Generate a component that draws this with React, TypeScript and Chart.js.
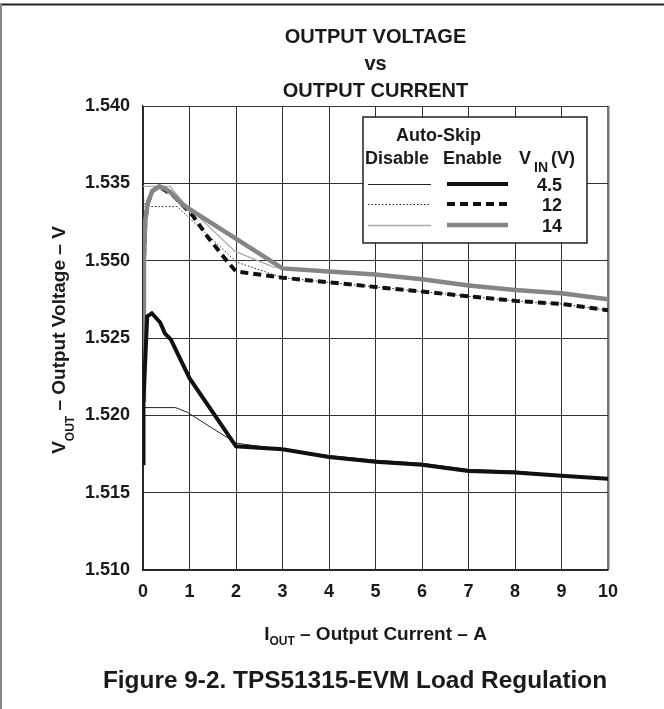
import React, { useEffect, useRef } from "react";
import { Chart, registerables } from "chart.js";

Chart.register(...registerables);

// ---------- data ----------
const xTickValues = [0, 1, 2, 3, 4, 5, 6, 7, 8, 9, 10];
const yTickValues = [1.51, 1.515, 1.52, 1.525, 1.53, 1.535, 1.54];
const yTickLabels = ["1.510", "1.515", "1.520", "1.525", "1.550", "1.535", "1.540"];

const titleLines = ["OUTPUT VOLTAGE", "vs", "OUTPUT CURRENT"];
const caption = "Figure 9-2. TPS51315-EVM Load Regulation";

// VIN = 4.5 V, auto-skip enable (thick black)
const iout45En = [0, 0.01, 0.09, 0.19, 0.37, 0.47, 0.6, 1.0, 2.0, 3, 4, 5, 6, 7, 8, 9, 10];
const vout45En = [1.5169, 1.521, 1.5264, 1.5266, 1.526, 1.5253, 1.5249, 1.5224, 1.518, 1.5178, 1.5173, 1.517, 1.5168, 1.5164, 1.5163, 1.5161, 1.5159];

// VIN = 4.5 V, auto-skip disable (thin black)
const iout45Dis = [0, 0.7, 0.95, 2.0, 3, 4, 5, 6, 7, 8, 9, 10];
const vout45Dis = [1.5205, 1.5205, 1.5202, 1.5182, 1.5178, 1.5174, 1.5171, 1.5169, 1.5165, 1.5164, 1.5161, 1.5159];

// VIN = 12 V, auto-skip enable (thick dashed black)
const iout12En = [0, 0.02, 0.05, 0.1, 0.2, 0.35, 0.5, 0.65, 1.05, 1.4, 1.8, 2.0, 3, 4, 5, 6, 7, 8, 9, 10];
const vout12En = [1.521, 1.53, 1.5326, 1.5337, 1.5345, 1.5348, 1.5345, 1.5342, 1.533, 1.5315, 1.53, 1.5293, 1.5289, 1.5286, 1.5283, 1.528, 1.5277, 1.5274, 1.5272, 1.5268];

// VIN = 12 V, auto-skip disable (thin dotted black)
const iout12Dis = [0, 0.03, 0.73, 2.02, 3, 4, 5, 6, 7, 8, 9, 10];
const vout12Dis = [1.5344, 1.5335, 1.5335, 1.5299, 1.5289, 1.5286, 1.5283, 1.528, 1.5277, 1.5274, 1.5272, 1.5268];

// VIN = 14 V, auto-skip enable (thick gray)
const iout14En = [0, 0.02, 0.05, 0.1, 0.2, 0.35, 0.5, 0.6, 0.86, 3, 4, 5, 6, 7, 8, 9, 10];
const vout14En = [1.521, 1.53, 1.5326, 1.5337, 1.5345, 1.5348, 1.5346, 1.5344, 1.5336, 1.5295, 1.5293, 1.5291, 1.5288, 1.5284, 1.5281, 1.5279, 1.5275];

// VIN = 14 V, auto-skip disable (thin gray)
const iout14Dis = [0, 0.58, 0.86, 1.98, 2.8, 3, 4, 5, 6, 7, 8, 9, 10];
const vout14Dis = [1.5348, 1.5348, 1.5338, 1.5306, 1.5296, 1.5295, 1.5293, 1.5291, 1.5288, 1.5285, 1.5281, 1.5279, 1.5275];

const legendRows = ["4.5", "12", "14"];

// ---------- helpers ----------
const FAMILY = "'Liberation Sans', Arial, Helvetica, sans-serif";
const bold = (px: number) => `bold ${px}px ${FAMILY}`;

const pts = (xs: number[], ys: number[]) => xs.map((x, i) => ({ x, y: ys[i] }));

type Part = { t: string; size: number; dy: number };

function drawParts(ctx: CanvasRenderingContext2D, parts: Part[], cx: number, baseY: number) {
  let total = 0;
  const widths = parts.map((p) => {
    ctx.font = bold(p.size);
    const w = ctx.measureText(p.t).width;
    total += w;
    return w;
  });
  let x = cx - total / 2;
  ctx.textAlign = "left";
  ctx.textBaseline = "alphabetic";
  parts.forEach((p, i) => {
    ctx.font = bold(p.size);
    ctx.fillText(p.t, x, baseY + p.dy);
    x += widths[i];
  });
}

const decorPlugin = {
  id: "decor",
  afterDraw(chart: any) {
    const ctx: CanvasRenderingContext2D = chart.ctx;
    const ca = chart.chartArea;
    const cx = (ca.left + ca.right) / 2;
    ctx.save();

    // outer frame (top and left edges)
    ctx.strokeStyle = "#222";
    ctx.lineWidth = 2;
    ctx.beginPath();
    ctx.moveTo(0, 4.5);
    ctx.lineTo(664, 4.5);
    ctx.stroke();
    ctx.strokeStyle = "#888";
    ctx.lineWidth = 2;
    ctx.beginPath();
    ctx.moveTo(1, 4);
    ctx.lineTo(1, 709);
    ctx.stroke();

    ctx.fillStyle = "#1a1a1a";
    // title
    ctx.textAlign = "center";
    ctx.textBaseline = "alphabetic";
    ctx.font = bold(20);
    titleLines.forEach((t, i) => ctx.fillText(t, cx, 43 + i * 27));

    // x-axis title
    drawParts(
      ctx,
      [
        { t: "I", size: 19, dy: 0 },
        { t: "OUT", size: 12, dy: 5 },
        { t: " \u2013 Output Current \u2013 A", size: 19, dy: 0 },
      ],
      cx,
      640
    );

    // y-axis title
    ctx.save();
    ctx.translate(65, (ca.top + ca.bottom) / 2 + 2);
    ctx.rotate(-Math.PI / 2);
    drawParts(
      ctx,
      [
        { t: "V", size: 19, dy: 0 },
        { t: "OUT", size: 12, dy: 9 },
        { t: " \u2013 Output Voltage \u2013 V", size: 19, dy: 0 },
      ],
      0,
      0
    );
    ctx.restore();

    // caption
    ctx.textAlign = "center";
    ctx.font = bold(24.4);
    ctx.fillText(caption, 355, 688);

    // legend box
    const L = 363, T = 117, R = 587, B = 243;
    ctx.fillStyle = "#fff";
    ctx.fillRect(L, T, R - L, B - T);
    ctx.strokeStyle = "#222";
    ctx.lineWidth = 1.5;
    ctx.strokeRect(L, T, R - L, B - T);

    ctx.fillStyle = "#1a1a1a";
    ctx.textAlign = "center";
    ctx.font = bold(18);
    ctx.fillText("Auto-Skip", 438.5, 141);
    ctx.textAlign = "left";
    ctx.fillText("Disable", 365, 164);
    ctx.fillText("Enable", 443, 164);
    ctx.fillText("V", 519, 164);
    ctx.font = bold(14);
    ctx.fillText("IN", 534, 172);
    ctx.font = bold(18);
    ctx.fillText("(V)", 551, 164);

    const rowY = [184, 204, 225];
    const styles = [
      { dis: { c: "#222", w: 1, d: [] as number[] }, en: { c: "#111", w: 4, d: [] as number[] } },
      { dis: { c: "#222", w: 1, d: [1.5, 2] }, en: { c: "#111", w: 4, d: [8, 5] } },
      { dis: { c: "#aaa", w: 1.3, d: [] as number[] }, en: { c: "#858585", w: 4.5, d: [] as number[] } },
    ];
    rowY.forEach((y, i) => {
      const s = styles[i];
      ctx.setLineDash(s.dis.d);
      ctx.strokeStyle = s.dis.c;
      ctx.lineWidth = s.dis.w;
      ctx.beginPath();
      ctx.moveTo(368, y + 0.5);
      ctx.lineTo(431, y + 0.5);
      ctx.stroke();
      ctx.setLineDash(s.en.d);
      ctx.strokeStyle = s.en.c;
      ctx.lineWidth = s.en.w;
      ctx.beginPath();
      ctx.moveTo(447, y);
      ctx.lineTo(508, y);
      ctx.stroke();
      ctx.setLineDash([]);
      ctx.textAlign = "right";
      ctx.font = bold(18);
      ctx.fillText(legendRows[i], 562, y + 6.5);
    });

    ctx.restore();
  },
};

export default function App() {
  const ref = useRef<HTMLCanvasElement | null>(null);

  useEffect(() => {
    if (!ref.current) return;
    const lineBase = { pointRadius: 0, tension: 0, fill: false, borderCapStyle: "butt" as const };
    const chart = new Chart(ref.current, {
      type: "line",
      data: {
        datasets: [
          { ...lineBase, label: "4.5 Disable", data: pts(iout45Dis, vout45Dis), borderColor: "#222", borderWidth: 1, order: 6 },
          { ...lineBase, label: "12 Disable", data: pts(iout12Dis, vout12Dis), borderColor: "#222", borderWidth: 1, borderDash: [1.5, 2], order: 5 },
          { ...lineBase, label: "14 Disable", data: pts(iout14Dis, vout14Dis), borderColor: "#aaa", borderWidth: 1.3, order: 4 },
          { ...lineBase, label: "12 Enable", data: pts(iout12En, vout12En), borderColor: "#111", borderWidth: 4, borderDash: [8, 5], order: 3 },
          { ...lineBase, label: "14 Enable", data: pts(iout14En, vout14En), borderColor: "#858585", borderWidth: 4.5, order: 2 },
          { ...lineBase, label: "4.5 Enable", data: pts(iout45En, vout45En), borderColor: "#111", borderWidth: 4, order: 1 },
        ],
      },
      options: {
        animation: false,
        responsive: false,
        devicePixelRatio: 1,
        layout: { padding: { left: 0, right: 56, top: 106, bottom: 99 } },
        plugins: {
          legend: { display: false },
          title: { display: false },
          tooltip: { enabled: false },
        },
        scales: {
          x: {
            type: "linear",
            min: 0,
            max: 10,
            afterBuildTicks: (scale: any) => {
              scale.ticks = xTickValues.map((v) => ({ value: v }));
            },
            afterFit: (scale: any) => {
              scale.height = 40;
            },
            ticks: {
              font: { family: FAMILY, size: 18, weight: "bold" },
              color: "#1a1a1a",
              padding: 11,
              maxRotation: 0,
              autoSkip: false,
              callback: (v: any) => String(v),
            },
            grid: {
              drawTicks: false,
              color: (c: any) => (c.tick && c.tick.value === 10 ? "#777" : "#333"),
              lineWidth: (c: any) => (c.tick && c.tick.value === 10 ? 2.5 : 1),
            },
            border: { display: true, color: "#222", width: 1.2 },
          },
          y: {
            type: "linear",
            min: 1.51,
            max: 1.54,
            afterBuildTicks: (scale: any) => {
              scale.ticks = yTickValues.map((v) => ({ value: v }));
            },
            afterFit: (scale: any) => {
              scale.width = 143;
            },
            ticks: {
              font: { family: FAMILY, size: 18, weight: "bold" },
              color: "#1a1a1a",
              padding: 13,
              autoSkip: false,
              callback: (_v: any, i: number) => yTickLabels[i],
            },
            grid: { drawTicks: false, color: "#333", lineWidth: 1 },
            border: { display: true, color: "#222", width: 1.2 },
          },
        },
      },
      plugins: [decorPlugin],
    } as any);
    return () => chart.destroy();
  }, []);

  return (
    <div style={{ position: "absolute", left: 0, top: 0, width: 664, height: 709, background: "#fff" }}>
      <canvas ref={ref} width={664} height={709} style={{ display: "block", width: 664, height: 709 }} />
    </div>
  );
}
